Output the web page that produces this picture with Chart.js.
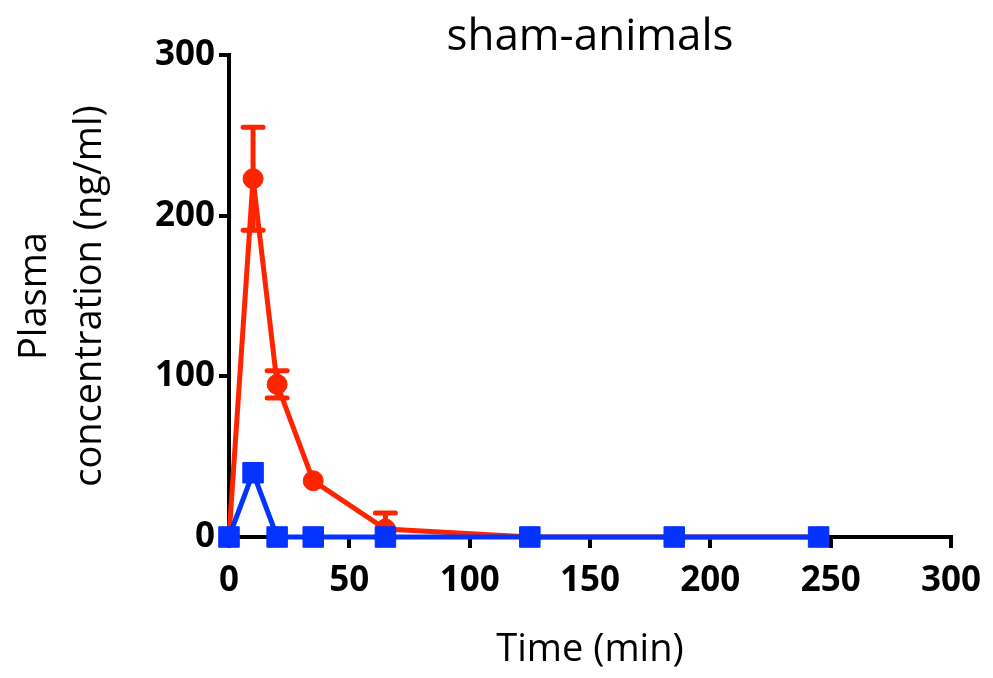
<!DOCTYPE html>
<html>
<head>
<meta charset="utf-8">
<script src="https://cdn.jsdelivr.net/npm/chart.js@4.4.1/dist/chart.umd.min.js"></script>
<style>
  html, body { margin: 0; padding: 0; background: #fff; }
  #wrap { width: 993px; height: 678px; }
</style>
</head>
<body>
<div id="wrap"><canvas id="chart" width="993" height="678"></canvas></div>
<script>
// sampling times (min)
const timePoints = [0, 10, 20, 35, 65, 125, 185, 245];
// red series: mean and sd
const redMean = [0, 223, 95, 35, 5, 0, 0, 0];
const redSd = [0, 32, 8.5, 0, 10, 0, 0, 0];
// blue series
const blueMean = [0, 40, 0, 0, 0, 0, 0, 0];

const RED = '#ff2400';
const BLUE = '#0433ff';
const FONT = 'Open Sans';

const toPoints = (vals) => timePoints.map((t, i) => ({ x: t, y: vals[i] }));

const errorBars = {
  id: 'errorBars',
  beforeDatasetsDraw(chart) {
    const { ctx, scales: { x, y } } = chart;
    ctx.save();
    ctx.strokeStyle = RED;
    ctx.lineWidth = 5;
    ctx.lineCap = 'round';
    timePoints.forEach((t, i) => {
      if (!redSd[i]) return;
      const px = x.getPixelForValue(t);
      const top = y.getPixelForValue(redMean[i] + redSd[i]);
      const bot = y.getPixelForValue(Math.max(0, redMean[i] - redSd[i]));
      ctx.beginPath();
      ctx.moveTo(px, top);
      ctx.lineTo(px, bot);
      ctx.moveTo(px - 10, top);
      ctx.lineTo(px + 10, top);
      ctx.moveTo(px - 10, bot);
      ctx.lineTo(px + 10, bot);
      ctx.stroke();
    });
    ctx.restore();
  }
};

const axisStyle = (tickLength) => ({
  grid: { drawOnChartArea: false, drawTicks: true, tickLength, color: '#000', lineWidth: 4 },
  border: { display: true, color: '#000', width: 4 },
});

new Chart(document.getElementById('chart').getContext('2d'), {
  type: 'line',
  data: {
    datasets: [
      {
        label: 'blue',
        data: toPoints(blueMean),
        borderColor: BLUE,
        backgroundColor: BLUE,
        borderWidth: 5,
        pointStyle: 'rect',
        pointRadius: 14.5,
        pointBorderWidth: 1,
        tension: 0,
        clip: false
      },
      {
        label: 'red',
        data: toPoints(redMean),
        borderColor: RED,
        backgroundColor: RED,
        borderWidth: 5,
        pointStyle: 'circle',
        pointRadius: 10,
        pointBorderWidth: 1,
        tension: 0,
        clip: false
      }
    ]
  },
  options: {
    responsive: false,
    animation: false,
    devicePixelRatio: 1,
    layout: { padding: { left: 0, right: 42, top: 0, bottom: 0 } },
    plugins: {
      legend: { display: false },
      tooltip: { enabled: false },
      title: {
        display: true,
        text: 'sham-animals',
        fullSize: false,
        color: '#000',
        font: { family: FONT, size: 44, weight: 'normal', lineHeight: 1 },
        padding: { top: 15, bottom: -4 }
      }
    },
    scales: {
      x: {
        type: 'linear',
        min: 0,
        max: 300,
        ...axisStyle(11),
        ticks: { stepSize: 50, color: '#000', padding: 12, font: { family: FONT, size: 35, weight: 'bold' } },
        title: {
          display: true,
          text: 'Time (min)',
          color: '#000',
          font: { family: FONT, size: 38, weight: 'normal' },
          padding: { top: 0, bottom: 5 }
        },
        afterFit: (s) => { s.height = 141; }
      },
      y: {
        type: 'linear',
        min: 0,
        max: 300,
        ...axisStyle(10),
        ticks: { stepSize: 100, color: '#000', padding: 4, font: { family: FONT, size: 35, weight: 'bold' } },
        title: {
          display: true,
          text: ['Plasma', 'concentration (ng/ml)'],
          color: '#000',
          font: { family: FONT, size: 38, weight: 'normal', lineHeight: 1.45 },
          padding: { top: 8, bottom: 0 }
        },
        afterFit: (s) => { s.width = 229; }
      }
    }
  },
  plugins: [errorBars]
});
</script>
</body>
</html>
